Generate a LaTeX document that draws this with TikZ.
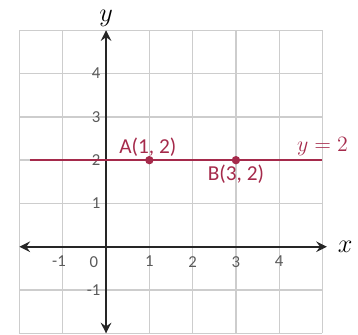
\documentclass[tikz,border=0pt]{standalone}
\usepackage{fontspec}
\newfontfamily\labelfont{Carlito}
\usetikzlibrary{arrows.meta}

\definecolor{linered}{RGB}{165,42,75}
\definecolor{gridgray}{RGB}{205,205,205}
\definecolor{ticktext}{RGB}{90,90,90}

\begin{document}
\begin{tikzpicture}[
    gridline/.style={
        draw=gridgray,
        line width=0.9pt
    },
    axis/.style={
        <->,
        line width=1.3pt,
        black!85,
        >={Stealth[length=7pt, width=7pt, inset=2.5pt]}
    },
    redline/.style={
        draw=linered,
        line width=1.3pt
    },
    dot/.style={
        circle,
        fill=linered,
        inner sep=0pt,
        minimum size=5.5pt
    },
    tick/.style={
        font=\labelfont\fontsize{11}{12}\selectfont,
        text=ticktext,
        inner sep=1pt
    },
    ptlabel/.style={
        font=\labelfont\fontsize{14}{16}\selectfont,
        text=linered,
        inner sep=1pt
    },
    axislabel/.style={
        font=\fontsize{17}{19}\selectfont,
        inner sep=0pt
    }
]
\useasboundingbox (-2.45,-2.03) rectangle (5.82,5.70);

% Grid
\draw [gridline] (-2,-2) grid (5,5);

% Axes
\coordinate (xmin) at (-2,0);
\coordinate (xmax) at (5.1,0);
\coordinate (ymin) at (0,-2);
\coordinate (ymax) at (0,5);
\draw [axis] (xmin) -- (xmax);
\draw [axis] (ymin) -- (ymax);
\node [axislabel, right=7pt] (xlab) at (xmax) {$x$};
\node [axislabel, above=2.5pt] (ylab) at (ymax) {$y$};

% Tick labels
\foreach \n in {1,2,3,4} {
    \node [tick, below=5pt] (xt\n) at (\n,0) {\n};
}
\node [tick, below=5pt, xshift=-2.5pt] (xtm1) at (-1,0) {-1};
\node [tick, below=5pt, xshift=-8pt] (xt0) at (0,0) {0};
\foreach \n in {1,2,3,4} {
    \node [tick, left=2.5pt] (yt\n) at (0,\n) {\n};
}
\node [tick, left=2.5pt] (ytm1) at (0,-1) {-1};

% Line y = 2
\coordinate (lstart) at (-1.75,2);
\coordinate (lend) at (5,2);
\draw [redline] (lstart) -- (lend);
\node [ptlabel, font=\fontsize{14}{16}\selectfont, above=1.5pt] (eq) at (lend) {$y = 2$};

% Points
\node [dot] (A) at (1,2) {};
\node [dot] (B) at (3,2) {};
\node [ptlabel, above=1pt, xshift=-1pt] (Alab) at (A) {A(1, 2)};
\node [ptlabel, below=2pt] (Blab) at (B) {B(3, 2)};

\end{tikzpicture}
\end{document}
